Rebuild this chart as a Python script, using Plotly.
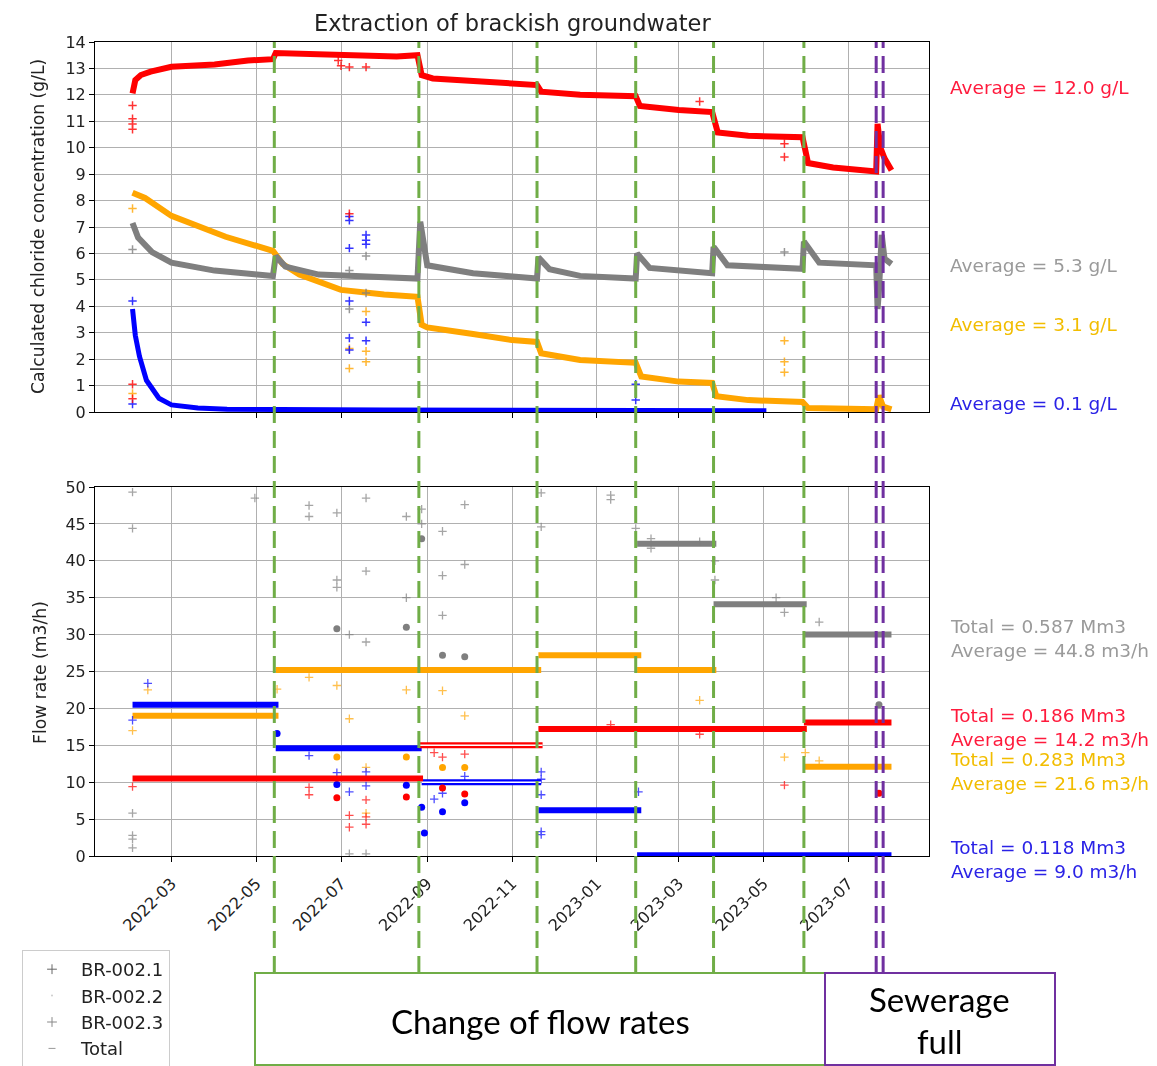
import plotly.graph_objects as go

# ---------------- data ----------------
# Chloride concentration (g/L)
c1_dates = ['2022-02-01', '2022-02-03', '2022-02-07', '2022-02-14', '2022-03-01', '2022-04-01', '2022-04-25',
            '2022-05-13', '2022-05-15', '2022-06-15', '2022-07-15', '2022-08-10', '2022-08-25', '2022-08-28',
            '2022-09-05', '2022-10-08', '2022-11-19', '2022-11-22', '2022-12-20', '2023-01-29', '2023-02-01',
            '2023-03-01', '2023-03-25', '2023-03-29', '2023-04-20', '2023-05-29', '2023-06-02', '2023-06-20',
            '2023-07-21', '2023-07-22', '2023-07-24', '2023-07-27', '2023-08-01']
c1_vals = [12.06, 12.56, 12.75, 12.88, 13.06, 13.15, 13.3,
           13.35, 13.58, 13.55, 13.5, 13.45, 13.5, 12.75,
           12.62, 12.5, 12.37, 12.12, 12.0, 11.95, 11.58,
           11.43, 11.35, 10.58, 10.45, 10.4, 9.42, 9.25,
           9.1, 10.9, 10.0, 9.6, 9.15]

c2_dates = ['2022-02-01', '2022-02-10', '2022-03-01', '2022-04-09', '2022-05-13', '2022-05-20', '2022-06-01',
            '2022-07-01', '2022-08-01', '2022-08-25', '2022-08-28', '2022-09-01', '2022-10-04', '2022-11-01',
            '2022-11-19', '2022-11-22', '2022-12-20', '2023-01-29', '2023-02-02', '2023-03-01', '2023-03-25',
            '2023-03-28', '2023-04-20', '2023-05-29', '2023-06-02', '2023-07-21', '2023-07-23', '2023-07-26',
            '2023-08-01']
c2_vals = [8.3, 8.1, 7.42, 6.63, 6.1, 5.6, 5.2,
           4.62, 4.45, 4.36, 3.3, 3.2, 2.95, 2.72,
           2.65, 2.22, 1.97, 1.86, 1.34, 1.15, 1.1,
           0.6, 0.45, 0.38, 0.15, 0.1, 0.62, 0.2,
           0.1]

c3_dates = ['2022-02-01', '2022-02-03', '2022-02-06', '2022-02-11', '2022-02-20', '2022-03-01', '2022-03-20',
            '2022-04-10', '2022-08-01', '2023-01-29', '2023-02-10', '2023-05-03']
c3_vals = [3.9, 2.9, 2.1, 1.2, 0.52, 0.27, 0.15,
           0.1, 0.08, 0.08, 0.06, 0.05]

ct_dates = ['2022-02-01', '2022-02-05', '2022-02-15', '2022-03-01', '2022-04-01', '2022-05-13', '2022-05-15',
            '2022-05-22', '2022-06-15', '2022-07-20', '2022-08-25', '2022-08-27', '2022-09-01', '2022-10-04',
            '2022-11-19', '2022-11-20', '2022-11-28', '2022-12-20', '2023-01-29', '2023-01-30', '2023-02-08',
            '2023-03-25', '2023-03-26', '2023-04-05', '2023-05-29', '2023-05-30', '2023-06-10', '2023-07-21',
            '2023-07-22', '2023-07-23', '2023-07-25', '2023-07-27', '2023-08-01']
ct_vals = [7.15, 6.6, 6.05, 5.65, 5.35, 5.15, 5.9,
           5.5, 5.2, 5.15, 5.05, 7.2, 5.55, 5.25,
           5.05, 5.85, 5.4, 5.15, 5.05, 6.0, 5.45,
           5.25, 6.25, 5.55, 5.42, 6.45, 5.65, 5.55,
           3.9, 4.6, 6.7, 5.8, 5.6]

# concentration outliers
c1_out_dates = ['2022-02-01', '2022-02-01', '2022-02-01', '2022-02-01', '2022-02-01', '2022-02-01', '2022-06-29',
                '2022-07-01', '2022-07-07', '2022-07-19', '2023-03-16', '2023-05-16', '2023-05-16', '2022-07-07']
c1_out_vals = [11.6, 11.1, 10.9, 10.7, 1.05, 0.5, 13.3,
               13.1, 13.05, 13.05, 11.75, 10.15, 9.65, 7.5]
c2_out_dates = ['2022-02-01', '2022-02-01', '2022-07-07', '2022-07-07', '2022-07-19', '2022-07-19', '2022-07-19',
                '2023-05-16', '2023-05-16', '2023-05-16']
c2_out_vals = [7.7, 0.7, 2.4, 1.65, 3.8, 2.3, 1.9,
               2.7, 1.9, 1.5]
c3_out_dates = ['2022-02-01', '2022-02-01', '2022-07-07', '2022-07-07', '2022-07-07', '2022-07-07', '2022-07-07',
                '2022-07-07', '2022-07-19', '2022-07-19', '2022-07-19', '2022-07-19', '2022-07-19', '2023-01-29',
                '2023-01-29']
c3_out_vals = [4.2, 0.3, 7.4, 7.25, 6.2, 4.2, 2.8,
               2.35, 6.7, 6.5, 6.35, 3.4, 2.7, 1.05,
               0.45]
ct_out_dates = ['2022-02-01', '2022-07-07', '2022-07-19', '2022-07-07', '2022-07-19', '2023-05-16']
ct_out_vals = [6.15, 5.35, 5.9, 3.9, 4.5, 6.05]

# Flow rates (m3/h): constant segments (start, end, value)
f1_start = ['2022-02-01', '2022-08-26', '2022-11-20', '2023-05-30']
f1_end = ['2022-08-29', '2022-11-23', '2023-06-01', '2023-08-01']
f1_vals = [10.5, 15.0, 17.2, 18.1]

f2_start = ['2022-02-01', '2022-05-15', '2022-11-20', '2023-01-30', '2023-03-26', '2023-05-30']
f2_end = ['2022-05-17', '2022-11-22', '2023-02-02', '2023-03-28', '2023-06-01', '2023-08-01']
f2_vals = [19.0, 25.2, 27.2, 25.2, 17.2, 12.1]

f3_start = ['2022-02-01', '2022-05-15', '2022-08-28', '2022-11-20', '2023-01-30']
f3_end = ['2022-05-17', '2022-08-28', '2022-11-22', '2023-02-02', '2023-08-01']
f3_vals = [20.5, 14.6, 10.0, 6.2, 0.1]

ft_start = ['2022-02-01', '2023-01-30', '2023-03-26', '2023-05-30']
ft_end = ['2023-01-29', '2023-03-28', '2023-06-01', '2023-08-01']
ft_vals = [50.4, 42.3, 34.1, 30.0]

# flow outliers (small crosses) and clusters (dots)
f1_out_dates = ['2022-02-01', '2022-06-08', '2022-06-08', '2022-07-07', '2022-07-07', '2022-07-19', '2022-07-19',
                '2022-07-19', '2022-09-06', '2022-09-12', '2022-09-28', '2023-01-11', '2023-03-16', '2023-05-16']
f1_out_vals = [9.4, 9.3, 8.3, 5.5, 3.9, 7.6, 5.3,
               4.3, 14.0, 13.4, 13.8, 17.8, 16.5, 9.6]
f1_clu_dates = ['2022-06-28', '2022-08-17', '2022-09-12', '2022-09-28', '2023-07-23']
f1_clu_vals = [7.9, 8.0, 9.2, 8.4, 8.5]

f2_out_dates = ['2022-02-12', '2022-02-01', '2022-05-16', '2022-06-08', '2022-06-28', '2022-07-07', '2022-07-19',
                '2022-07-19', '2022-08-17', '2022-09-12', '2022-09-28', '2023-03-16', '2023-05-16', '2023-05-31',
                '2023-06-10']
f2_out_vals = [22.5, 17.0, 22.6, 24.2, 23.1, 18.6, 12.0,
               5.8, 22.5, 22.4, 19.0, 21.1, 13.4, 14.0,
               12.9]
f2_clu_dates = ['2022-06-28', '2022-08-17', '2022-09-12', '2022-09-28']
f2_clu_vals = [13.4, 13.4, 12.0, 12.0]

f3_out_dates = ['2022-02-12', '2022-02-01', '2022-06-08', '2022-06-28', '2022-07-07', '2022-07-19', '2022-07-19',
                '2022-09-06', '2022-09-12', '2022-09-28', '2022-11-22', '2022-11-22', '2022-11-22', '2022-11-22',
                '2022-11-22', '2023-01-31']
f3_out_vals = [23.4, 18.4, 13.6, 11.3, 8.7, 11.4, 9.5,
               7.7, 8.5, 10.8, 11.4, 10.4, 8.3, 3.3,
               2.9, 8.7]
f3_clu_dates = ['2022-05-16', '2022-06-28', '2022-08-17', '2022-08-28', '2022-08-30', '2022-09-12', '2022-09-28']
f3_clu_vals = [16.6, 9.7, 9.6, 6.6, 3.1, 6.0, 7.2]

ft_out_dates = ['2022-02-01', '2022-02-01', '2022-02-01', '2022-02-01', '2022-02-01', '2022-02-01', '2022-04-30',
                '2022-06-08', '2022-06-08', '2022-06-28', '2022-06-28', '2022-06-28', '2022-07-07', '2022-07-19',
                '2022-07-19', '2022-07-19', '2022-08-17', '2022-08-17', '2022-08-28', '2022-08-28', '2022-09-12',
                '2022-09-12', '2022-09-12', '2022-09-28', '2022-09-28', '2022-11-22', '2022-11-22', '2023-01-11',
                '2023-01-11', '2023-01-29', '2023-02-09', '2023-02-09', '2023-03-16', '2023-03-27', '2023-03-27',
                '2023-05-10', '2023-05-16', '2023-06-10', '2022-07-07', '2022-07-19']
ft_out_vals = [44.4, 5.8, 2.8, 2.3, 1.1, 49.3, 48.5,
               47.5, 46.0, 46.5, 37.4, 36.4, 30.0, 48.5,
               38.6, 29.0, 46.0, 35.0, 47.0, 45.0, 44.0,
               38.0, 32.6, 47.6, 39.5, 49.2, 44.6, 48.9,
               48.3, 44.4, 43.0, 41.7, 42.6, 40.0, 37.4,
               35.0, 33.0, 31.7, 0.3, 0.3]
ft_clu_dates = ['2022-06-28', '2022-08-17', '2022-08-28', '2022-09-12', '2022-09-28', '2023-07-23']
ft_clu_vals = [30.8, 31.0, 43.0, 27.2, 27.0, 20.5]

# event dates
flow_change_dates = ['2022-05-14', '2022-08-26', '2022-11-19', '2023-01-29', '2023-03-26', '2023-05-30']
sewerage_dates = ['2023-07-21', '2023-07-26']

series_names = ['BR-002.1', 'BR-002.2', 'BR-002.3', 'Total']
conc_avg_text = ['Average = 12.0 g/L', 'Average = 3.1 g/L', 'Average = 0.1 g/L', 'Average = 5.3 g/L']
flow_text = ['Total = 0.186 Mm3<br>Average = 14.2 m3/h', 'Total = 0.283 Mm3<br>Average = 21.6 m3/h',
             'Total = 0.118 Mm3<br>Average = 9.0 m3/h', 'Total = 0.587 Mm3<br>Average = 44.8 m3/h']

# ---------------- styling ----------------
RED, ORANGE, BLUE, GRAY = '#ff0000', '#ffa500', '#0000ff', '#7f7f7f'
colors = [RED, ORANGE, BLUE, GRAY]
text_colors = ['#ff1a3c', '#f2bd00', '#2a22e6', '#9a9a9a']
GREEN, PURPLE = '#70ad47', '#7030a0'
FONT = 'DejaVu Sans'

W, H = 1157, 1066
L, R, T, B = 95, 228, 42, 210
PH = H - T - B


def py(pix):
    return (H - B - pix) / PH


def px(pix):
    return (pix - L) / (W - L - R)


def seg_xy(starts, ends, vals):
    xs, ys = [], []
    for s, e, v in zip(starts, ends, vals):
        xs += [s, e, None]
        ys += [v, v, None]
    return xs, ys


fig = go.Figure()

conc = [(c1_dates, c1_vals), (c2_dates, c2_vals), (c3_dates, c3_vals), (ct_dates, ct_vals)]
conc_out = [(c1_out_dates, c1_out_vals), (c2_out_dates, c2_out_vals), (c3_out_dates, c3_out_vals),
            (ct_out_dates, ct_out_vals)]
flows = [(f1_start, f1_end, f1_vals), (f2_start, f2_end, f2_vals), (f3_start, f3_end, f3_vals),
         (ft_start, ft_end, ft_vals)]
flow_out = [(f1_out_dates, f1_out_vals), (f2_out_dates, f2_out_vals), (f3_out_dates, f3_out_vals),
            (ft_out_dates, ft_out_vals)]
flow_clu = [(f1_clu_dates, f1_clu_vals), (f2_clu_dates, f2_clu_vals), (f3_clu_dates, f3_clu_vals),
            (ft_clu_dates, ft_clu_vals)]

order = [1, 3, 2, 0]
for i in order:
    col = colors[i]
    d, v = conc[i]
    fig.add_trace(go.Scatter(x=d, y=v, mode='lines', line=dict(color=col, width=6 if i != 2 else 5),
                             xaxis='x', yaxis='y', showlegend=False, hoverinfo='skip'))
    d, v = conc_out[i]
    fig.add_trace(go.Scatter(x=d, y=v, mode='markers',
                             marker=dict(symbol='cross-thin', size=6, line=dict(color=col, width=1.5)),
                             xaxis='x', yaxis='y', showlegend=False, hoverinfo='skip', opacity=0.8))

for i in order:
    col = colors[i]
    xs, ys = seg_xy(*flows[i])
    fig.add_trace(go.Scatter(x=xs, y=ys, mode='lines', line=dict(color=col, width=6),
                             xaxis='x2', yaxis='y2', showlegend=False, hoverinfo='skip', connectgaps=False))
    d, v = flow_out[i]
    fig.add_trace(go.Scatter(x=d, y=v, mode='markers',
                             marker=dict(symbol='cross-thin', size=6, line=dict(color=col, width=1.3)),
                             xaxis='x2', yaxis='y2', showlegend=False, hoverinfo='skip', opacity=0.7))
    d, v = flow_clu[i]
    fig.add_trace(go.Scatter(x=d, y=v, mode='markers', marker=dict(symbol='circle', size=7, color=col),
                             xaxis='x2', yaxis='y2', showlegend=False, hoverinfo='skip'))

# hollow-looking segments (Aug-Nov 2022) for BR-002.1 and BR-002.3
for i, k in [(0, 1), (2, 2)]:
    s, e, v = flows[i]
    fig.add_trace(go.Scatter(x=[s[k], e[k]], y=[v[k], v[k]], mode='lines', line=dict(color='white', width=1.5),
                             xaxis='x2', yaxis='y2', showlegend=False, hoverinfo='skip'))

# legend entries
leg_markers = [dict(symbol='cross-thin', size=7, line=dict(color='#666666', width=1)),
               dict(symbol='circle', size=2, color='#cccccc'),
               dict(symbol='cross-thin', size=7, line=dict(color='#888888', width=1)),
               dict(symbol='line-ew', size=5, line=dict(color='#999999', width=1))]
for i, name in enumerate(series_names):
    fig.add_trace(go.Scatter(x=[None], y=[None], mode='markers', name=name, marker=leg_markers[i],
                             xaxis='x', yaxis='y', legendgroup=name, legendrank=i + 1))

shapes = []
for d in flow_change_dates:
    shapes.append(dict(type='line', xref='x', yref='paper', x0=d, x1=d, y0=py(973), y1=1,
                       line=dict(color=GREEN, width=3, dash='17px,8px')))
for d in sewerage_dates:
    shapes.append(dict(type='line', xref='x', yref='paper', x0=d, x1=d, y0=py(973), y1=1,
                       line=dict(color=PURPLE, width=3, dash='17px,8px')))
shapes.append(dict(type='rect', xref='paper', yref='paper', x0=px(255), x1=px(825), y0=py(1065), y1=py(973),
                   line=dict(color=GREEN, width=2), fillcolor='rgba(0,0,0,0)'))
shapes.append(dict(type='rect', xref='paper', yref='paper', x0=px(825), x1=px(1055), y0=py(1065), y1=py(973),
                   line=dict(color=PURPLE, width=2), fillcolor='rgba(0,0,0,0)'))

ann = []
ann.append(dict(text='Extraction of brackish groundwater', xref='paper', yref='paper', x=0.5, y=py(23),
                xanchor='center', yanchor='middle', showarrow=False, font=dict(size=22.5, color='#222222')))
ann.append(dict(text='Calculated chloride concentration (g/L)', xref='paper', yref='paper', x=px(38), y=py(227),
                xanchor='center', yanchor='middle', textangle=-90, showarrow=False,
                font=dict(size=17.2, color='#222222')))
ann.append(dict(text='Flow rate (m3/h)', xref='paper', yref='paper', x=px(40), y=py(672),
                xanchor='center', yanchor='middle', textangle=-90, showarrow=False,
                font=dict(size=17.2, color='#222222')))
conc_text_y = [88, 324, 404, 266]
for i in range(4):
    ann.append(dict(text=conc_avg_text[i], xref='paper', yref='paper', x=px(948), y=py(conc_text_y[i]),
                    xanchor='left', yanchor='middle', showarrow=False, font=dict(size=18.5, color=text_colors[i])))
flow_text_y = [727, 771, 860, 638]
for i in range(4):
    ann.append(dict(text=flow_text[i], xref='paper', yref='paper', x=px(948), y=py(flow_text_y[i]),
                    xanchor='left', yanchor='middle', align='left', showarrow=False,
                    font=dict(size=18.5, color=text_colors[i])))
ann.append(dict(text='Change of flow rates', xref='paper', yref='paper', x=px(540), y=py(1021),
                xanchor='center', yanchor='middle', showarrow=False, font=dict(family='Lato', size=33, color='black')))
ann.append(dict(text='Sewerage', xref='paper', yref='paper', x=px(940), y=py(999),
                xanchor='center', yanchor='middle', showarrow=False, font=dict(family='Lato', size=33, color='black')))
ann.append(dict(text='full', xref='paper', yref='paper', x=px(940), y=py(1041),
                xanchor='center', yanchor='middle', showarrow=False, font=dict(family='Lato', size=33, color='black')))

axis_common = dict(showline=True, linecolor='black', linewidth=1, mirror=True, ticks='outside', ticklen=5,
                   tickcolor='black', showgrid=True, gridcolor='#b0b0b0', gridwidth=1, zeroline=False,
                   tickfont=dict(size=16, color='#222222'))
xrange = ['2022-01-05', '2023-08-28']

fig.update_layout(
    width=W, height=H,
    margin=dict(l=L, r=R, t=T, b=B, autoexpand=False),
    paper_bgcolor='white', plot_bgcolor='white',
    font=dict(family=FONT, size=16, color='#222222'),
    xaxis=dict(domain=[0, 1], anchor='y', type='date', range=xrange, dtick='M2', tick0='2022-01-01',
               showticklabels=False, **axis_common),
    yaxis=dict(domain=[py(412), 1], anchor='x', range=[0, 14], dtick=1, **axis_common),
    xaxis2=dict(domain=[0, 1], anchor='y2', type='date', range=xrange, dtick='M2', tick0='2022-01-01',
                tickformat='%Y-%m', tickangle=-45, matches='x', ticklabelstandoff=6, **axis_common),
    yaxis2=dict(domain=[0, py(487)], anchor='x2', range=[0, 50], dtick=5, **axis_common),
    shapes=shapes, annotations=ann,
    showlegend=True,
    legend=dict(x=px(22), y=py(950), xanchor='left', yanchor='top', bgcolor='white', bordercolor='#cccccc',
                borderwidth=1, font=dict(size=18, color='#222222'), traceorder='grouped', tracegroupgap=0,
                itemwidth=48),
)

fig.write_html('out.html', config={'displayModeBar': False},
               post_script="document.body.style.margin='0px';")
